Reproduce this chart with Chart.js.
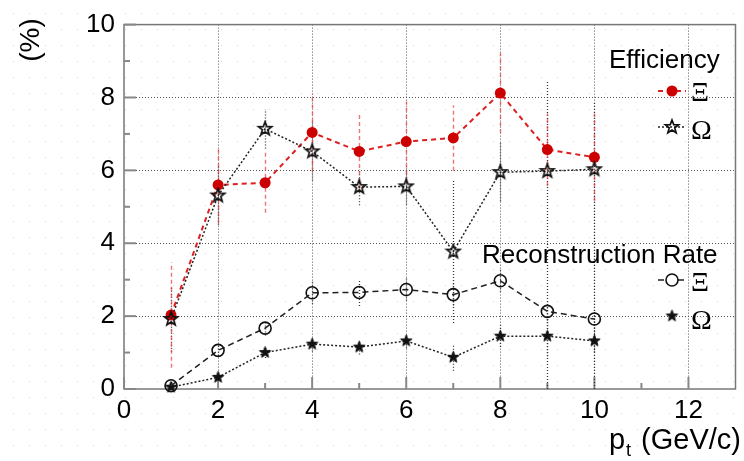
<!DOCTYPE html>
<html>
<head>
<meta charset="utf-8">
<script src="https://cdn.jsdelivr.net/npm/chart.js@4.4.1/dist/chart.umd.min.js"></script>
<style>
  html, body { margin: 0; padding: 0; background: #fff; }
  #c { display: block; }
</style>
</head>
<body>
<canvas id="c" width="744" height="461"></canvas>
<script>
// transverse-momentum bins (GeV/c)
const ptBins = [1, 2, 3, 4, 5, 6, 7, 8, 9, 10];

// efficiency (%)
const effXi          = [2.03, 5.60, 5.66, 7.04, 6.52, 6.79, 6.89, 8.12, 6.57, 6.36];
const effXiErr       = [1.45, 1.05, 0.82, 1.07, 1.03, 1.10, 0.90, 1.10, 1.00, 1.20];
const effOmega       = [1.92, 5.31, 7.14, 6.52, 5.54, 5.56, 3.77, 5.95, 5.98, 6.03];
const effOmegaErrLo  = [0.90, 0.80, 0.54, 0.80, 0.50, 0.50, 1.96, 0.80, 5.98, 6.03];
const effOmegaErrHi  = [0.90, 0.80, 0.54, 0.80, 0.50, 0.50, 1.96, 0.80, 2.50, 1.83];

// reconstruction rate (%)
const recXi          = [0.09, 1.06, 1.67, 2.64, 2.65, 2.73, 2.59, 2.97, 2.13, 1.92];
const recXiErr       = [0.10, 0.15, 0.20, 0.30, 0.37, 0.30, 0.30, 0.30, 0.25, 0.25];
const recOmega       = [0.05, 0.32, 1.00, 1.23, 1.15, 1.32, 0.87, 1.45, 1.45, 1.32];
const recOmegaErr    = [0.05, 0.10, 0.15, 0.20, 0.20, 0.20, 0.37, 0.30, 0.55, 0.30];

// axes
const xTicks = [0, 2, 4, 6, 8, 10, 12];
const yTicks = [0, 2, 4, 6, 8, 10];
const xMinor = [1, 3, 5, 7, 9, 11];
const yMinor = [1, 3, 5, 7, 9];

const SANS = "'Liberation Sans', Arial, sans-serif";
const SERIF = "'Liberation Serif', 'Times New Roman', serif";
const RED = '#cc0000';

function starImage(R, filled, color, lw) {
  const s = Math.ceil(2 * R + lw + 2);
  const c = document.createElement('canvas');
  c.width = s; c.height = s;
  const g = c.getContext('2d');
  g.beginPath();
  for (let i = 0; i < 10; i++) {
    const r = i % 2 ? R * 0.42 : R;
    const a = -Math.PI / 2 + i * Math.PI / 5;
    const x = s / 2 + r * Math.cos(a), y = s / 2 + r * Math.sin(a);
    if (i) g.lineTo(x, y); else g.moveTo(x, y);
  }
  g.closePath();
  if (filled) { g.fillStyle = color; g.fill(); }
  g.lineJoin = 'miter';
  g.lineWidth = lw; g.strokeStyle = color; g.stroke();
  return c;
}
const openStar = starImage(7, false, '#111', 1.7);
const fullStar = starImage(6, true, '#111', 1);

const pts = (ys) => ptBins.map((x, i) => ({ x, y: ys[i] }));

const datasets = [
  {
    label: 'recXi', data: pts(recXi),
    borderColor: '#222', borderWidth: 1.5, borderDash: [6, 4],
    pointStyle: 'circle', pointRadius: 6, pointBorderWidth: 1.6,
    pointBorderColor: '#111', pointBackgroundColor: 'rgba(0,0,0,0)',
    errLo: recXiErr, errHi: recXiErr, errColor: '#333', errDash: [1, 2], errWidth: 1.3
  },
  {
    label: 'recOmega', data: pts(recOmega),
    borderColor: '#222', borderWidth: 1.5, borderDash: [2, 2],
    pointStyle: fullStar, pointRadius: 6,
    errLo: recOmegaErr, errHi: recOmegaErr, errColor: '#333', errDash: [1, 2], errWidth: 1.3
  },
  {
    label: 'effOmega', data: pts(effOmega),
    borderColor: '#222', borderWidth: 1.5, borderDash: [2, 2],
    pointStyle: openStar, pointRadius: 7,
    errLo: effOmegaErrLo, errHi: effOmegaErrHi, errColor: '#333', errDash: [1, 2], errWidth: 1.3
  },
  {
    label: 'effXi', data: pts(effXi),
    borderColor: '#dd1f1f', borderWidth: 2, borderDash: [5, 4],
    pointStyle: 'circle', pointRadius: 5.5, pointBorderWidth: 0,
    pointBackgroundColor: RED, pointBorderColor: RED,
    errLo: effXiErr, errHi: effXiErr, errColor: 'rgba(230,60,60,0.7)', errDash: [4, 3], errWidth: 1.4
  }
];

// faint dotted canvas pattern
const backdrop = {
  id: 'backdrop',
  beforeDraw(chart) {
    const g = chart.ctx;
    g.save();
    g.fillStyle = '#fff';
    g.fillRect(0, 0, chart.width, chart.height);
    g.fillStyle = '#d9d9d9';
    for (let y = 13; y < chart.height; y += 16)
      for (let x = 13; x < chart.width; x += 16)
        g.fillRect(x, y, 1, 1);
    g.restore();
  }
};

// dotted grid, frame, inward tick marks, error bars, titles and legend
const frame = {
  id: 'frame',
  beforeDatasetsDraw(chart) {
    const g = chart.ctx, a = chart.chartArea;
    const xs = chart.scales.x, ys = chart.scales.y;
    g.save();
    g.strokeStyle = '#555'; g.lineWidth = 1; g.setLineDash([1, 2]);
    xTicks.forEach(v => {
      if (v === 0) return;
      const x = Math.round(xs.getPixelForValue(v)) + 0.5;
      g.beginPath(); g.moveTo(x, a.top); g.lineTo(x, a.bottom); g.stroke();
    });
    yTicks.forEach(v => {
      if (v === 0 || v === 10) return;
      const y = Math.round(ys.getPixelForValue(v)) + 0.5;
      g.beginPath(); g.moveTo(a.left, y); g.lineTo(a.right, y); g.stroke();
    });
    g.setLineDash([]);
    g.strokeStyle = '#777'; g.lineWidth = 1.5;
    g.strokeRect(a.left, a.top, a.right - a.left, a.bottom - a.top);
    g.strokeStyle = '#888'; g.lineWidth = 2;
    const tick = (x1, y1, x2, y2) => { g.beginPath(); g.moveTo(x1, y1); g.lineTo(x2, y2); g.stroke(); };
    xTicks.forEach(v => { const x = xs.getPixelForValue(v); tick(x, a.bottom, x, a.bottom - 12); });
    xMinor.forEach(v => { const x = xs.getPixelForValue(v); tick(x, a.bottom, x, a.bottom - 6); });
    yTicks.forEach(v => { const y = ys.getPixelForValue(v); tick(a.left, y, a.left + 12, y); });
    yMinor.forEach(v => { const y = ys.getPixelForValue(v); tick(a.left, y, a.left + 6, y); });

    chart.data.datasets.forEach(ds => {
      g.strokeStyle = ds.errColor; g.lineWidth = ds.errWidth; g.setLineDash(ds.errDash);
      ds.data.forEach((p, i) => {
        const x = Math.round(xs.getPixelForValue(p.x)) + 0.5;
        const y1 = ys.getPixelForValue(Math.max(0, p.y - ds.errLo[i]));
        const y2 = ys.getPixelForValue(p.y + ds.errHi[i]);
        g.beginPath(); g.moveTo(x, y1); g.lineTo(x, y2); g.stroke();
      });
    });
    g.restore();
  },
  afterDraw(chart) {
    const g = chart.ctx;
    g.save();
    g.fillStyle = '#000';
    // y title
    g.save();
    g.translate(31, 40);
    g.rotate(-Math.PI / 2);
    g.font = '28px ' + SANS;
    g.textAlign = 'center'; g.textBaseline = 'middle';
    g.fillText('(%)', 0, 0);
    g.restore();

    // x title with subscript
    const base = 449;
    g.textBaseline = 'alphabetic'; g.textAlign = 'left';
    const big = '29px ' + SANS, small = '18px ' + SANS;
    g.font = big; const wP = g.measureText('p').width;
    const rest = ' (GeV/c)'; const wR = g.measureText(rest).width;
    g.font = small; const wT = g.measureText('t').width;
    const x0 = 741 - (wP + wT + 3 + wR);
    g.font = big; g.fillText('p', x0, base);
    g.font = small; g.fillText('t', x0 + wP + 1, base + 7);
    g.font = big; g.fillText(rest, x0 + wP + wT + 3, base);

    // legend blocks
    g.font = '26px ' + SANS;
    g.fillText('Efficiency', 609, 68);
    g.fillText('Reconstruction Rate', 482, 263);

    const seg = (x1, x2, y, color, dash, w) => {
      g.save(); g.strokeStyle = color; g.lineWidth = w; g.setLineDash(dash);
      g.beginPath(); g.moveTo(x1, y); g.lineTo(x2, y); g.stroke(); g.restore();
    };
    const mx = 672;
    seg(658, 686, 91, '#dd1f1f', [5, 4], 2);
    g.fillStyle = RED; g.beginPath(); g.arc(mx, 91, 5.5, 0, Math.PI * 2); g.fill();
    seg(658, 686, 127, '#222', [2, 2], 1.5);
    g.drawImage(openStar, mx - openStar.width / 2, 127 - openStar.height / 2);
    seg(658, 684, 280, '#222', [6, 4], 1.5);
    g.fillStyle = '#fff'; g.beginPath(); g.arc(mx, 280, 6, 0, Math.PI * 2); g.fill();
    g.strokeStyle = '#111'; g.lineWidth = 1.6; g.beginPath(); g.arc(mx, 280, 6, 0, Math.PI * 2); g.stroke();
    g.drawImage(fullStar, mx - fullStar.width / 2, 316 - fullStar.height / 2);

    g.fillStyle = '#000';
    g.font = '28px ' + SERIF;
    g.fillText('Ξ', 691, 101);
    g.fillText('Ω', 691, 139);
    g.fillText('Ξ', 691, 291);
    g.fillText('Ω', 691, 329);
    g.restore();
  }
};

new Chart(document.getElementById('c'), {
  type: 'line',
  data: { datasets },
  options: {
    responsive: false,
    devicePixelRatio: 1,
    animation: false,
    layout: { padding: { left: 0, right: 3, top: 15, bottom: 0 } },
    plugins: { legend: { display: false }, tooltip: { enabled: false } },
    elements: { line: { tension: 0, fill: false } },
    datasets: { line: { clip: false } },
    scales: {
      x: {
        type: 'linear', min: 0, max: 13,
        afterBuildTicks: s => { s.ticks = xTicks.map(v => ({ value: v })); },
        afterFit: s => { s.height = 72; },
        grid: { display: false, drawTicks: false },
        border: { display: false },
        ticks: { font: { family: SANS, size: 26 }, color: '#000', padding: 6, maxRotation: 0, autoSkip: false }
      },
      y: {
        type: 'linear', min: 0, max: 10,
        afterBuildTicks: s => { s.ticks = yTicks.map(v => ({ value: v })); },
        afterFit: s => { s.width = 124; },
        grid: { display: false, drawTicks: false },
        border: { display: false },
        ticks: { font: { family: SANS, size: 26 }, color: '#000', padding: 9 }
      }
    }
  },
  plugins: [backdrop, frame]
});
</script>
</body>
</html>
